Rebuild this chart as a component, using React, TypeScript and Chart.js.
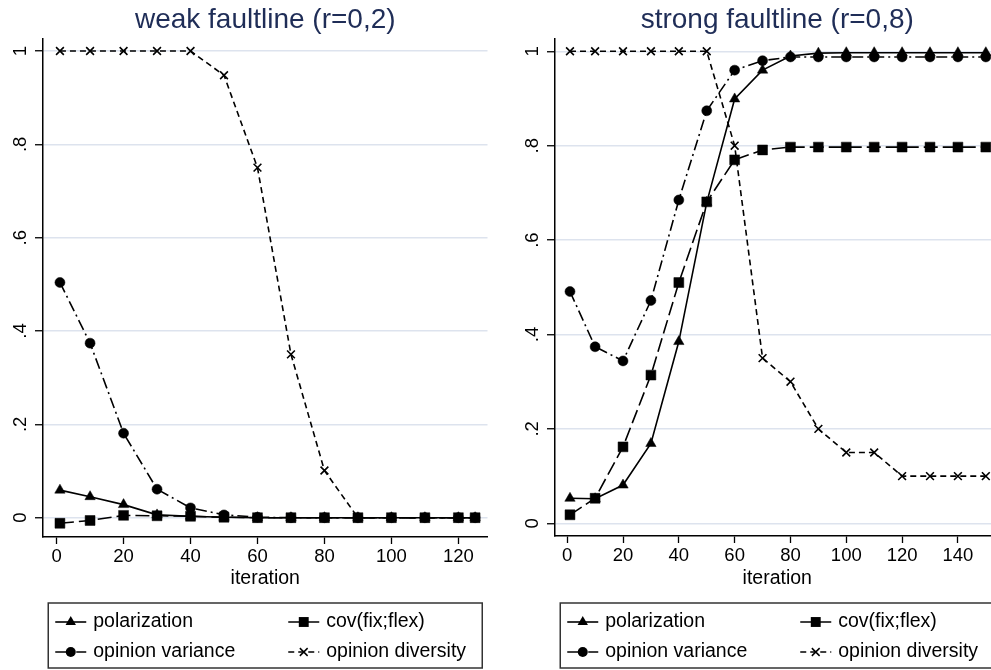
import React, { useEffect, useRef } from "react";
import { Chart, registerables } from "chart.js";

Chart.register(...registerables);

const FONT = "'Liberation Sans', Arial, Helvetica, sans-serif";
const TITLE_COLOR = "#1f2d57";
const GRID_COLOR = "#dde3ee";

// ---------- data ----------
const seriesNames = ["polarization", "cov(fix;flex)", "opinion variance", "opinion diversity"];
const xAxisTitle = "iteration";
const weakTitle = "weak faultline (r=0,2)";
const strongTitle = "strong faultline (r=0,8)";

const weakIterations = [1, 10, 20, 30, 40, 50, 60, 70, 80, 90, 100, 110, 120, 125];
const weakPolarization = [0.059, 0.045, 0.028, 0.006, 0.003, 0.001, 0, 0, 0, 0, 0, 0, 0, 0];
const weakCov = [-0.012, -0.006, 0.005, 0.004, 0.003, 0.001, 0, 0, 0, 0, 0, 0, 0, 0];
const weakVariance = [0.504, 0.374, 0.181, 0.061, 0.021, 0.006, 0.001, 0, 0, 0, 0, 0, 0, 0];
const weakDiversity = [1, 1, 1, 1, 1, 0.948, 0.75, 0.35, 0.101, 0, 0, 0, 0, 0];

const strongIterations = [1, 10, 20, 30, 40, 50, 60, 70, 80, 90, 100, 110, 120, 130, 140, 150];
const strongPolarization = [0.053, 0.052, 0.081, 0.169, 0.385, 0.68, 0.899, 0.96, 0.99, 0.996, 0.997, 0.997, 0.997, 0.997, 0.997, 0.997];
const strongCov = [0.018, 0.053, 0.162, 0.314, 0.51, 0.681, 0.77, 0.791, 0.797, 0.797, 0.797, 0.797, 0.797, 0.797, 0.797, 0.797];
const strongVariance = [0.491, 0.374, 0.344, 0.472, 0.685, 0.874, 0.96, 0.98, 0.988, 0.988, 0.988, 0.988, 0.988, 0.988, 0.988, 0.988];
const strongDiversity = [1, 1, 1, 1, 1, 1, 0.8, 0.35, 0.3, 0.2, 0.15, 0.15, 0.1, 0.1, 0.1, 0.1];

const yTicks = [0, 0.2, 0.4, 0.6, 0.8, 1];
const yTickLabels = ["0", ".2", ".4", ".6", ".8", "1"];
const weakXTicks = [0, 20, 40, 60, 80, 100, 120];
const weakXTickLabels = ["0", "20", "40", "60", "80", "100", "120"];
const strongXTicks = [0, 20, 40, 60, 80, 100, 120, 140];
const strongXTickLabels = ["0", "20", "40", "60", "80", "100", "120", "140"];

// ---------- styles ----------
const seriesStyles = [
  { dash: [] as number[], point: "triangle", radius: 6 },
  { dash: [14, 5], point: "rect", radius: 7 },
  { dash: [11, 4, 2, 4], point: "circle", radius: 5 },
  { dash: [6, 4], point: "crossRot", radius: 5.5 },
];

type Panel = {
  title: string;
  iterations: number[];
  series: number[][];
  xTicks: number[];
  xTickLabels: string[];
  xMin: number;
  xMax: number;
  yMin: number;
  yMax: number;
  yAxisWidth: number;
  xAxisHeight: number;
  padRight: number;
  width: number;
  left: number;
};

const weakPanel: Panel = {
  title: weakTitle,
  iterations: weakIterations,
  series: [weakPolarization, weakCov, weakVariance, weakDiversity],
  xTicks: weakXTicks,
  xTickLabels: weakXTickLabels,
  xMin: -4.06,
  xMax: 128.7,
  yMin: -0.0414,
  yMax: 1.0257,
  yAxisWidth: 43,
  xAxisHeight: 133,
  padRight: 4,
  width: 495,
  left: 0,
};

const strongPanel: Panel = {
  title: strongTitle,
  iterations: strongIterations,
  series: [strongPolarization, strongCov, strongVariance, strongDiversity],
  xTicks: strongXTicks,
  xTickLabels: strongXTickLabels,
  xMin: -4.37,
  xMax: 154.9,
  yMin: -0.0269,
  yMax: 1.026,
  yAxisWidth: 60,
  xAxisHeight: 134,
  padRight: 4,
  width: 512,
  left: 495,
};

function drawMarker(ctx: CanvasRenderingContext2D, style: string, x: number, y: number, r: number) {
  ctx.beginPath();
  if (style === "triangle") {
    let rad = 0;
    ctx.moveTo(x + Math.sin(rad) * r, y - Math.cos(rad) * r);
    rad += (2 * Math.PI) / 3;
    ctx.lineTo(x + Math.sin(rad) * r, y - Math.cos(rad) * r);
    rad += (2 * Math.PI) / 3;
    ctx.lineTo(x + Math.sin(rad) * r, y - Math.cos(rad) * r);
    ctx.closePath();
    ctx.fill();
  } else if (style === "rect") {
    const s = r * Math.SQRT1_2;
    ctx.rect(x - s, y - s, 2 * s, 2 * s);
    ctx.fill();
  } else if (style === "circle") {
    ctx.arc(x, y, r, 0, Math.PI * 2);
    ctx.fill();
  } else {
    const d = r * Math.SQRT1_2;
    ctx.moveTo(x - d, y - d);
    ctx.lineTo(x + d, y + d);
    ctx.moveTo(x + d, y - d);
    ctx.lineTo(x - d, y + d);
    ctx.stroke();
  }
}

function decorPlugin(panel: Panel) {
  return {
    id: "stataDecor",
    afterDraw(chart: any) {
      const ctx: CanvasRenderingContext2D = chart.ctx;
      const area = chart.chartArea;
      const yScale = chart.scales.y;
      const cx = (area.left + area.right) / 2;
      ctx.save();
      // title
      ctx.fillStyle = TITLE_COLOR;
      ctx.font = `28px ${FONT}`;
      ctx.textAlign = "center";
      ctx.textBaseline = "alphabetic";
      ctx.fillText(panel.title, cx, 28);
      // rotated y tick labels
      ctx.fillStyle = "#000";
      ctx.font = `18.5px ${FONT}`;
      yTicks.forEach((v, i) => {
        const y = yScale.getPixelForValue(v);
        ctx.save();
        ctx.translate(area.left - 17, y);
        ctx.rotate(-Math.PI / 2);
        ctx.textAlign = "center";
        ctx.textBaseline = "alphabetic";
        ctx.fillText(yTickLabels[i], 0, 0);
        ctx.restore();
      });
      // legend box
      const boxW = 434;
      const boxL = cx - boxW / 2;
      const boxT = 603;
      const boxH = 65;
      ctx.strokeStyle = "#333";
      ctx.lineWidth = 1.5;
      ctx.setLineDash([]);
      ctx.strokeRect(boxL, boxT, boxW, boxH);
      const rows = [622, 652];
      const cols = [7, 240];
      const order = [0, 1, 2, 3];
      order.forEach((si, k) => {
        const row = rows[Math.floor(k / 2)];
        const sx = boxL + cols[k % 2];
        const st = seriesStyles[si];
        ctx.strokeStyle = "#000";
        ctx.fillStyle = "#000";
        ctx.lineWidth = 1.6;
        ctx.setLineDash(st.dash);
        ctx.beginPath();
        ctx.moveTo(sx, row);
        ctx.lineTo(sx + 31, row);
        ctx.stroke();
        ctx.setLineDash([]);
        ctx.lineWidth = 1.5;
        drawMarker(ctx, st.point, sx + 15.5, row, st.radius);
        ctx.font = `19.5px ${FONT}`;
        ctx.textAlign = "left";
        ctx.textBaseline = "middle";
        ctx.fillText(seriesNames[si], sx + 38, row);
      });
      ctx.restore();
    },
  };
}

function PanelChart({ panel }: { panel: Panel }) {
  const ref = useRef<HTMLCanvasElement | null>(null);
  useEffect(() => {
    if (!ref.current) return;
    const datasets = panel.series.map((vals, si) => {
      const st = seriesStyles[si];
      return {
        label: seriesNames[si],
        data: panel.iterations.map((x, i) => ({ x, y: vals[i] })),
        borderColor: "#000",
        backgroundColor: "#000",
        borderWidth: 1.6,
        borderDash: st.dash,
        pointStyle: st.point,
        pointRadius: st.radius,
        pointBackgroundColor: "#000",
        pointBorderColor: "#000",
        pointBorderWidth: st.point === "crossRot" ? 1.6 : 0.5,
        tension: 0,
        fill: false,
      };
    });
    const chart = new Chart(ref.current, {
      type: "line",
      data: { datasets } as any,
      options: {
        responsive: false,
        maintainAspectRatio: false,
        devicePixelRatio: 1,
        animation: false,
        events: [],
        layout: { padding: { top: 39, left: 0, right: panel.padRight, bottom: 0 } },
        plugins: {
          legend: { display: false },
          title: { display: false },
          tooltip: { enabled: false },
        },
        scales: {
          x: {
            type: "linear",
            position: "bottom",
            min: panel.xMin,
            max: panel.xMax,
            afterBuildTicks: (s: any) => {
              s.ticks = panel.xTicks.map((v) => ({ value: v }));
            },
            afterFit: (s: any) => {
              s.height = panel.xAxisHeight;
            },
            ticks: {
              callback: (_v: any, i: number) => panel.xTickLabels[i],
              font: { family: FONT, size: 18.5 },
              color: "#000",
              padding: 2,
              maxRotation: 0,
              minRotation: 0,
              autoSkip: false,
            },
            grid: {
              drawOnChartArea: false,
              drawTicks: true,
              tickLength: 7,
              tickColor: "#000",
              tickWidth: 1.3,
            },
            border: { display: true, color: "#000", width: 1.5 },
            title: {
              display: true,
              text: xAxisTitle,
              font: { family: FONT, size: 19.5 },
              color: "#000",
              padding: { top: 0, bottom: 79.3 },
            },
          },
          y: {
            type: "linear",
            min: panel.yMin,
            max: panel.yMax,
            afterBuildTicks: (s: any) => {
              s.ticks = yTicks.map((v) => ({ value: v }));
            },
            afterFit: (s: any) => {
              s.width = panel.yAxisWidth;
            },
            ticks: { display: false },
            grid: {
              color: GRID_COLOR,
              lineWidth: 1.5,
              drawTicks: true,
              tickLength: 8,
              tickColor: "#000",
              tickWidth: 1.3,
            },
            border: { display: true, color: "#000", width: 1.5 },
          },
        },
      } as any,
      plugins: [decorPlugin(panel)],
    });
    return () => chart.destroy();
  }, [panel]);
  return (
    <canvas
      ref={ref}
      width={panel.width}
      height={670}
      style={{ position: "absolute", left: panel.left, top: 0, width: panel.width, height: 670, display: "block" }}
    />
  );
}

export default function App() {
  return (
    <div
      style={{
        position: "fixed",
        left: 0,
        top: 0,
        width: 991,
        height: 670,
        overflow: "hidden",
        background: "#fff",
      }}
    >
      <PanelChart panel={weakPanel} />
      <PanelChart panel={strongPanel} />
    </div>
  );
}
